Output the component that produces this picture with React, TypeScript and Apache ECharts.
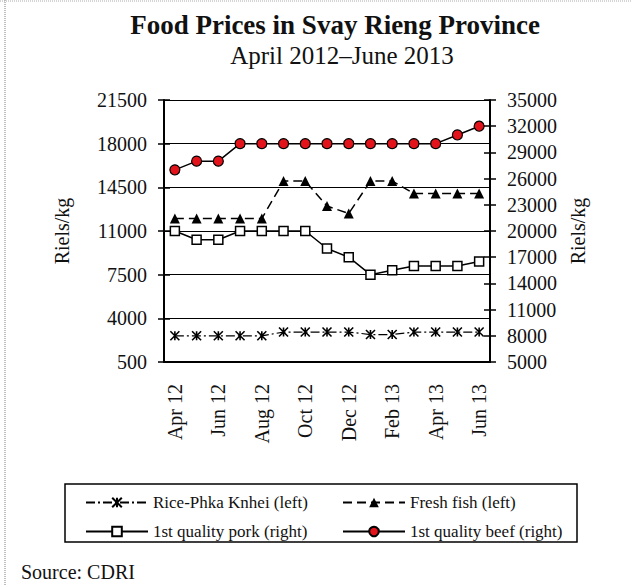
import React, { useEffect, useRef } from "react";
import * as echarts from "echarts";

const months = ["Apr 12","May 12","Jun 12","Jul 12","Aug 12","Sep 12","Oct 12","Nov 12","Dec 12","Jan 13","Feb 13","Mar 13","Apr 13","May 13","Jun 13"];
const rice = [2600,2600,2600,2600,2600,2900,2900,2900,2900,2700,2700,2900,2900,2900,2900];
const fish = [12000,12000,12000,12000,12000,15000,15000,13000,12400,15000,15000,14000,14000,14000,14000];
const pork = [20000,19000,19000,20000,20000,20000,20000,18000,17000,15000,15500,16000,16000,16000,16500];
const beef = [27000,28000,28000,30000,30000,30000,30000,30000,30000,30000,30000,30000,30000,31000,32000];
const leftTicks = { min: 500, max: 21500, interval: 3500 };
const rightTicks = { min: 5000, max: 35000, interval: 3000 };

const FONT = "'Liberation Serif', 'Times New Roman', serif";
const TXT = "#111";

export default function App() {
  const ref = useRef<HTMLDivElement>(null);
  useEffect(() => {
    document.body.style.margin = "0";
    const chart = echarts.init(ref.current!, null, { renderer: "svg" });
    const crossAxis = (pos: string, t: any) => ({
      type: "value", position: pos, ...t,
      axisLine: { show: false },
      axisTick: { show: true, inside: true, length: 6, lineStyle: { color: "#000", width: 1.5 } },
      axisLabel: { show: false }, splitLine: { show: false },
    });
    const fmt = (v: number) => String(v);
    chart.setOption({
      animation: false,
      backgroundColor: "#fff",
      textStyle: { fontFamily: FONT, color: TXT },
      title: [
        {
          text: "Food Prices in Svay Rieng Province",
          left: 330, top: 6, textAlign: "center",
          textStyle: { fontFamily: FONT, fontSize: 27, fontWeight: "bold", color: TXT },
        },
        {
          text: "April 2012\u2013June 2013",
          left: 337, top: 38, textAlign: "center",
          textStyle: { fontFamily: FONT, fontSize: 25, fontWeight: "normal", color: TXT },
        },
      ],
      grid: { left: 164, right: 141, top: 100, bottom: 223 },
      xAxis: {
        type: "category", data: months, boundaryGap: true,
        axisLine: { lineStyle: { color: "#000", width: 2 } },
        axisTick: { interval: 1, length: 7, lineStyle: { color: "#000", width: 1.5 } },
        axisLabel: { interval: 1, rotate: 90, margin: 22, fontSize: 20, fontFamily: FONT, color: TXT },
      },
      yAxis: [
        {
          type: "value", position: "left", ...leftTicks,
          name: "Riels/kg", nameLocation: "middle", nameRotate: 90, nameGap: 92,
          nameTextStyle: { fontFamily: FONT, fontSize: 20, color: TXT },
          axisLine: { show: true, lineStyle: { color: "#000", width: 2 } },
          axisTick: { show: true, length: 6, lineStyle: { color: "#000", width: 1.5 } },
          axisLabel: { margin: 17, fontSize: 20, fontFamily: FONT, color: TXT, formatter: fmt },
          splitLine: { show: true, lineStyle: { color: "#000", width: 1 } },
        },
        {
          type: "value", position: "right", ...rightTicks,
          name: "Riels/kg", nameLocation: "middle", nameRotate: 90, nameGap: 74,
          nameTextStyle: { fontFamily: FONT, fontSize: 20, color: TXT },
          axisLine: { show: true, lineStyle: { color: "#000", width: 2 } },
          axisTick: { show: true, length: 6, lineStyle: { color: "#000", width: 1.5 } },
          axisLabel: { margin: 17, fontSize: 20, fontFamily: FONT, color: TXT, formatter: fmt },
          splitLine: { show: false },
        },
        crossAxis("left", leftTicks),
        crossAxis("right", rightTicks),
      ],
      legend: [
        {
          orient: "vertical", left: 80, top: 489, itemWidth: 62, itemHeight: 12, itemGap: 12,
          textStyle: { fontFamily: FONT, fontSize: 17, color: TXT },
          data: ["Rice-Phka Knhei (left)", "1st quality pork (right)"],
        },
        {
          orient: "vertical", left: 337, top: 489, itemWidth: 62, itemHeight: 12, itemGap: 12,
          textStyle: { fontFamily: FONT, fontSize: 17, color: TXT },
          data: ["Fresh fish (left)", "1st quality beef (right)"],
        },
      ],
      graphic: [
        { type: "rect", shape: { x: 65, y: 484, width: 512, height: 58 }, style: { fill: "none", stroke: "#000", lineWidth: 1.5 }, z: 0 },
        { type: "text", left: 21, top: 562, style: { text: "Source: CDRI", font: `20px ${FONT}`, fill: TXT } },
        { type: "line", shape: { x1: 0, y1: 1, x2: 631, y2: 1 }, style: { stroke: "#aaa", lineWidth: 1, lineDash: [1, 1] } },
        { type: "line", shape: { x1: 5, y1: 0, x2: 5, y2: 585 }, style: { stroke: "#aaa", lineWidth: 1.5, lineDash: [1, 1] } },
      ],
      series: [
        {
          name: "Rice-Phka Knhei (left)", type: "line", yAxisIndex: 0, data: rice,
          symbol: "path://M0,0L10,10M10,0L0,10M5,0L5,10", symbolSize: 9,
          itemStyle: { color: "#000", borderColor: "#000", borderWidth: 1.6 },
          lineStyle: { color: "#000", width: 1.2, type: [9, 3, 2, 3] },
        },
        {
          name: "Fresh fish (left)", type: "line", yAxisIndex: 0, data: fish,
          symbol: "triangle", symbolSize: 10,
          itemStyle: { color: "#000", borderColor: "#000", borderWidth: 0 },
          lineStyle: { color: "#000", width: 1.5, type: [9, 5] },
        },
        {
          name: "1st quality pork (right)", type: "line", yAxisIndex: 1, data: pork,
          symbol: "rect", symbolSize: 9,
          itemStyle: { color: "#fff", borderColor: "#000", borderWidth: 1.5 },
          lineStyle: { color: "#000", width: 1.5 },
        },
        {
          name: "1st quality beef (right)", type: "line", yAxisIndex: 1, data: beef,
          symbol: "circle", symbolSize: 10,
          itemStyle: { color: "#e3131b", borderColor: "#000", borderWidth: 1.2 },
          lineStyle: { color: "#000", width: 1.5 },
        },
      ],
    });
    return () => chart.dispose();
  }, []);
  return <div ref={ref} style={{ position: "absolute", left: 0, top: 0, width: 631, height: 585 }} />;
}
